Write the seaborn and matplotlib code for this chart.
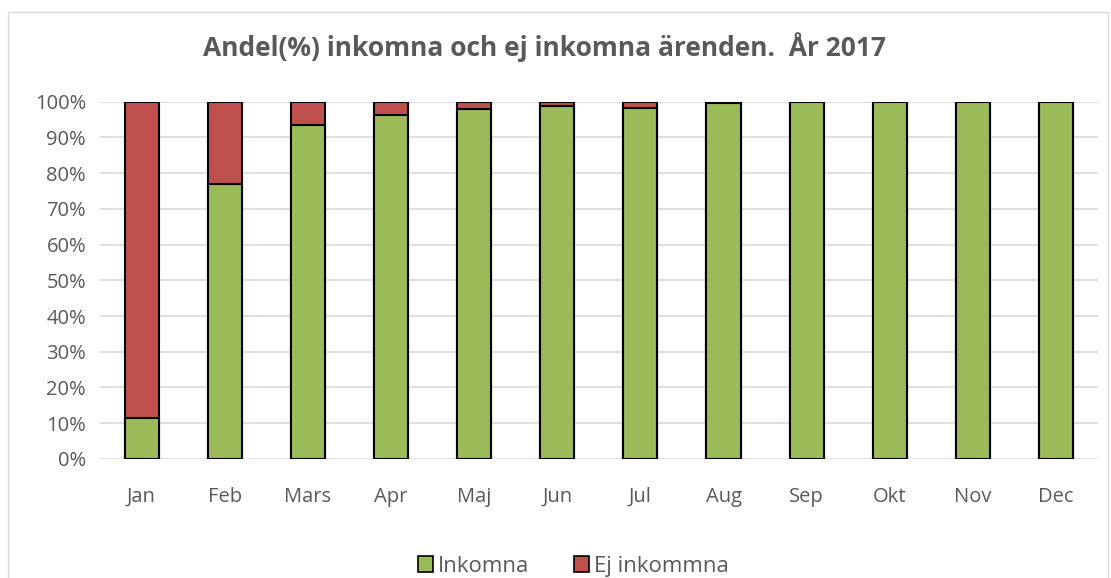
import matplotlib
matplotlib.use('Agg')
import matplotlib.pyplot as plt
from matplotlib.patches import Rectangle, Patch
import seaborn as sns
import pandas as pd

months = ['Jan', 'Feb', 'Mars', 'Apr', 'Maj', 'Jun', 'Jul', 'Aug', 'Sep', 'Okt', 'Nov', 'Dec']
inkomna = [11.5, 77.0, 93.6, 96.4, 98.0, 98.8, 98.3, 99.7, 100, 100, 100, 100]
ej_inkomna = [100 - v for v in inkomna]

green = '#9BBB59'
red = '#C0504D'
txt = '#595959'

df = pd.DataFrame({'month': months, 'inkomna': inkomna, 'ej': ej_inkomna})
df['total'] = df['inkomna'] + df['ej']

sns.set_style('white')
plt.rcParams['font.family'] = ['Open Sans', 'DejaVu Sans']

fig = plt.figure(figsize=(11.11, 5.78), dpi=100)
ax = fig.add_axes([0.09, 0.206, 0.898, 0.618])

# frame around the whole chart
fig.patches.append(Rectangle((0.007, -0.01), 0.99, 0.99, transform=fig.transFigure,
                             fill=False, edgecolor='#D9D9D9', linewidth=1))

sns.barplot(data=df, x='month', y='total', color=red, width=0.41, edgecolor='black',
            linewidth=1.5, saturation=1, ax=ax, zorder=3)
sns.barplot(data=df, x='month', y='inkomna', color=green, width=0.41, edgecolor='black',
            linewidth=1.5, saturation=1, ax=ax, zorder=4)

ax.set_ylim(0, 100)
ax.set_xlim(-0.5, 11.5)
ax.set_yticks(range(0, 101, 10))
ax.set_yticklabels([f'{v}%' for v in range(0, 101, 10)])
ax.yaxis.grid(True, color='#D9D9D9', linewidth=1.2, zorder=0)
ax.set_axisbelow(True)
for s in ax.spines.values():
    s.set_visible(False)
ax.tick_params(axis='both', length=0, labelsize=14.5, colors=txt, pad=10)
ax.tick_params(axis='x', pad=20)
ax.set_xlabel('')
ax.set_ylabel('')

fig.text(0.49, 0.918, 'Andel(%) inkomna och ej inkomna ärenden.  År 2017', ha='center', va='center',
         fontsize=19, fontweight='bold', color=txt)

handles = [Patch(facecolor=green, edgecolor='black', linewidth=1.2, label='Inkomna'),
           Patch(facecolor=red, edgecolor='black', linewidth=1.2, label='Ej inkommna')]
leg = fig.legend(handles=handles, loc='center', bbox_to_anchor=(0.516, 0.02), ncol=2, frameon=False,
                 fontsize=16, handlelength=0.7, handleheight=0.7, handletextpad=0.2, columnspacing=2.0)
for t in leg.get_texts():
    t.set_color(txt)

fig.savefig('out.png', dpi=100)
